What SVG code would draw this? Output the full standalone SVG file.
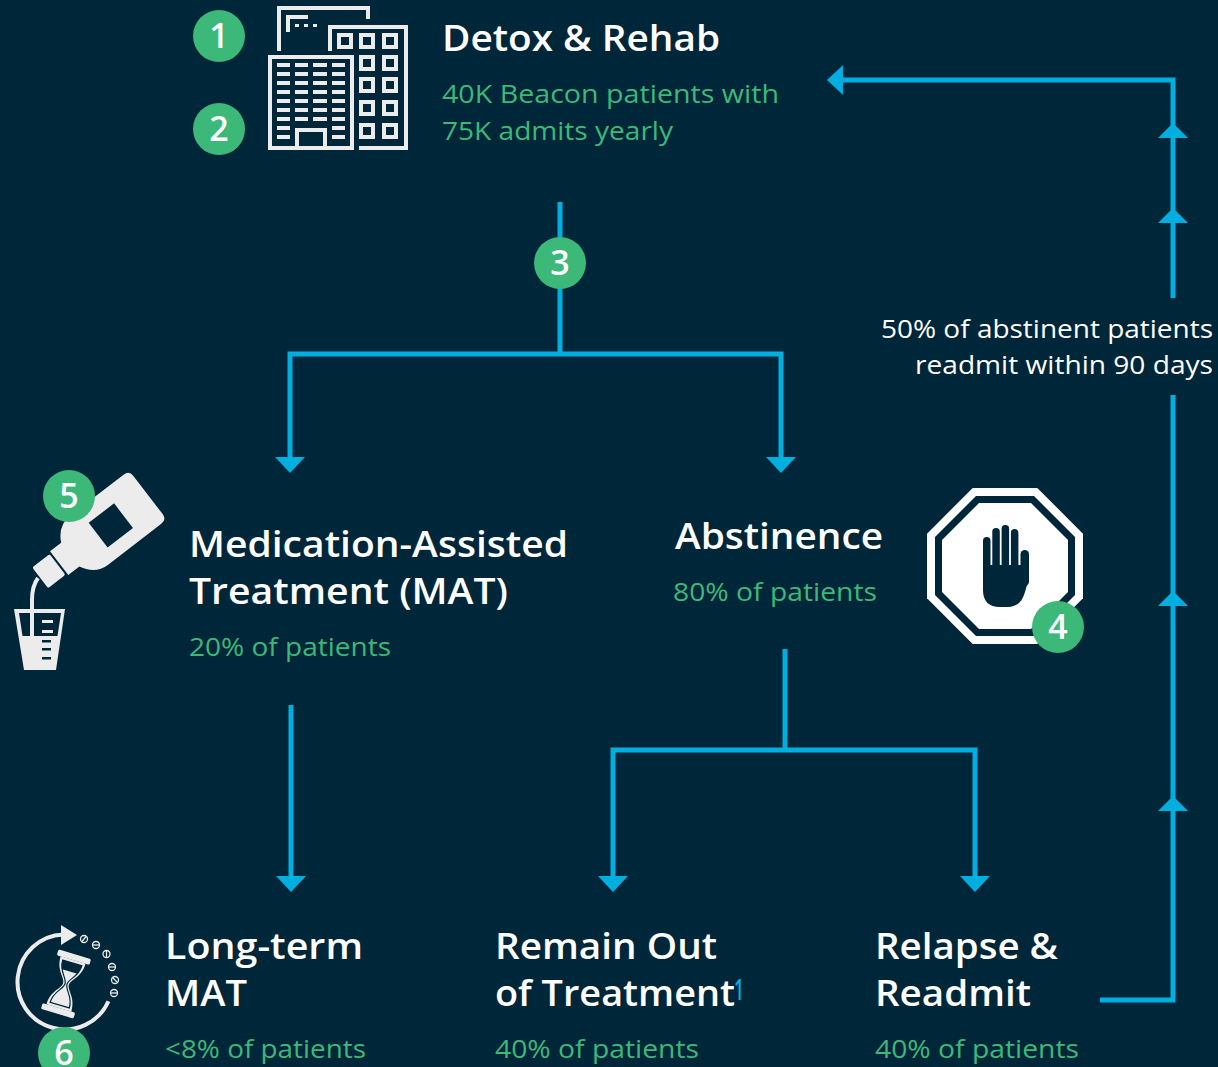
<svg xmlns="http://www.w3.org/2000/svg" xmlns:xlink="http://www.w3.org/1999/xlink" width="1218" height="1067" viewBox="0 0 1218 1067">
<style>
.bg{fill:#00263a}
.ln{fill:none;stroke:#00afe0;stroke-width:5;stroke-linejoin:miter;stroke-linecap:butt}
.hd{font-family:"Open Sans","Noto Sans","DejaVu Sans",sans-serif;font-weight:600;font-size:36px;fill:#ffffff}
.sub{font-family:"Open Sans","Noto Sans","DejaVu Sans",sans-serif;font-weight:400;font-size:26px;fill:#3cb878}
.note{font-family:"Open Sans","Noto Sans","DejaVu Sans",sans-serif;font-weight:400;font-size:26px;fill:#ffffff}
.badge{fill:#3cb878}
.num{font-family:"Open Sans","Noto Sans","DejaVu Sans",sans-serif;font-weight:600;font-size:34px;fill:#ffffff;text-anchor:middle}
.ico{fill:#ececec}
.icos{fill:none;stroke:#ececec;stroke-width:4}
.dark{fill:#00263a}
</style>
<defs>
<marker id="ah" markerUnits="userSpaceOnUse" markerWidth="16" markerHeight="30" viewBox="0 0 16 30" refX="0" refY="15" orient="auto">
<path d="M0,0 L16,15 L0,30 Z" fill="#00afe0"/>
</marker>
<path id="up" d="M-15,0 L0,-15 L15,0 Z" fill="#00afe0"/>
</defs>
<rect class="bg" x="0" y="0" width="1218" height="1067"/>

<g id="connectors">
<path class="ln" d="M560,202 V354"/>
<path class="ln" d="M560,354 H290 V457" marker-end="url(#ah)"/>
<path class="ln" d="M560,354 H781 V457" marker-end="url(#ah)"/>
<path class="ln" d="M291,705 V876" marker-end="url(#ah)"/>
<path class="ln" d="M785,649 V750"/>
<path class="ln" d="M785,750 H613 V876" marker-end="url(#ah)"/>
<path class="ln" d="M785,750 H975 V876" marker-end="url(#ah)"/>
<path class="ln" d="M1100,1000 H1173 V395"/>
<path class="ln" d="M1173,298 V80 H843" marker-end="url(#ah)"/>
<use xlink:href="#up" href="#up" x="1173" y="138"/>
<use xlink:href="#up" href="#up" x="1173" y="223"/>
<use xlink:href="#up" href="#up" x="1173" y="606"/>
<use xlink:href="#up" href="#up" x="1173" y="811"/>
<text class="note" x="881" y="338" textLength="332" lengthAdjust="spacingAndGlyphs">50% of abstinent patients</text>
<text class="note" x="915" y="374" textLength="298" lengthAdjust="spacingAndGlyphs">readmit within 90 days</text>
</g>

<g id="detox">
<g id="building">
<path class="icos" d="M279,51 V8 H368 V19"/>
<path class="icos" d="M288,32 V17 H308"/>
<rect class="ico" x="295" y="24" width="4" height="3"/>
<rect class="ico" x="304" y="24" width="4" height="3"/>
<rect class="ico" x="313" y="24" width="4" height="3"/>
<path class="icos" d="M330,51 V27 H406 V148 H359"/>
<rect class="icos" x="270" y="57" width="82" height="91"/>
<rect class="icos" x="297" y="130" width="28" height="18"/>
<g class="ico">
<rect x="277" y="63" width="13" height="4"/><rect x="295" y="63" width="13" height="4"/><rect x="313" y="63" width="14" height="4"/><rect x="332" y="63" width="13" height="4"/>
<rect x="277" y="72" width="13" height="4"/><rect x="295" y="72" width="13" height="4"/><rect x="313" y="72" width="14" height="4"/><rect x="332" y="72" width="13" height="4"/>
<rect x="277" y="81" width="13" height="4"/><rect x="295" y="81" width="13" height="4"/><rect x="313" y="81" width="14" height="4"/><rect x="332" y="81" width="13" height="4"/>
<rect x="277" y="90" width="13" height="4"/><rect x="295" y="90" width="13" height="4"/><rect x="313" y="90" width="14" height="4"/><rect x="332" y="90" width="13" height="4"/>
<rect x="277" y="99" width="13" height="4"/><rect x="295" y="99" width="13" height="4"/><rect x="313" y="99" width="14" height="4"/><rect x="332" y="99" width="13" height="4"/>
<rect x="277" y="108" width="13" height="4"/><rect x="295" y="108" width="13" height="4"/><rect x="313" y="108" width="14" height="4"/><rect x="332" y="108" width="13" height="4"/>
<rect x="277" y="117" width="13" height="4"/><rect x="295" y="117" width="13" height="4"/><rect x="313" y="117" width="14" height="4"/><rect x="332" y="117" width="13" height="4"/>
<rect x="277" y="126" width="13" height="4"/><rect x="332" y="126" width="13" height="4"/>
<rect x="277" y="135" width="13" height="4"/><rect x="332" y="135" width="13" height="4"/>
</g>
<g class="icos" stroke-width="3.5">
<rect x="339" y="35" width="12" height="12"/><rect x="361" y="35" width="12" height="12"/><rect x="384" y="35" width="12" height="12"/>
<rect x="361" y="57" width="12" height="12"/><rect x="384" y="57" width="12" height="12"/>
<rect x="361" y="79" width="12" height="12"/><rect x="384" y="79" width="12" height="12"/>
<rect x="361" y="102" width="12" height="12"/><rect x="384" y="102" width="12" height="12"/>
<rect x="361" y="125" width="12" height="12"/><rect x="384" y="125" width="12" height="12"/>
</g>
</g>
<circle class="badge" cx="219" cy="36" r="26"/>
<text class="num" x="219" y="48">1</text>
<circle class="badge" cx="219" cy="129" r="26"/>
<text class="num" x="219" y="141">2</text>
<text class="hd" x="442" y="51" textLength="278" lengthAdjust="spacingAndGlyphs">Detox &amp; Rehab</text>
<text class="sub" x="442" y="103" textLength="337" lengthAdjust="spacingAndGlyphs">40K Beacon patients with</text>
<text class="sub" x="442" y="140" textLength="231" lengthAdjust="spacingAndGlyphs">75K admits yearly</text>
</g>

<g id="step3">
<circle class="badge" cx="560" cy="263" r="26"/>
<text class="num" x="560" y="275">3</text>
</g>

<g id="mat">
<g id="bottle">
<g transform="translate(148,495) rotate(-37.5)">
<path class="ico" d="M-7,-31 H-74 Q-90,-31 -98,-15 H-112 V15 H-98 Q-90,31 -74,31 H-7 Q0,31 0,24 V-24 Q0,-31 -7,-31 Z"/>
<rect class="ico" x="-136" y="-13" width="22" height="26" rx="2"/>
<rect class="dark" x="-64" y="-14" width="32" height="31"/>
</g>
<path class="icos" d="M38,578 Q32,586 32,600 V637"/>
<path class="ico" d="M14,609 H65 L56,670 H24 Z"/>
<path class="dark" d="M19,613 H61 L57.5,636 H22.5 Z"/>
<rect class="ico" x="30" y="612" width="4" height="25"/>
<rect class="ico" x="42" y="620" width="11" height="3"/>
<rect class="ico" x="42" y="630" width="11" height="3"/>
<rect class="dark" x="42" y="640" width="9" height="2.5"/>
<rect class="dark" x="42" y="648" width="9" height="2.5"/>
<rect class="dark" x="42" y="657" width="9" height="2.5"/>
</g>
<circle class="badge" cx="69" cy="496" r="26"/>
<text class="num" x="69" y="508">5</text>
<text class="hd" x="189" y="557" textLength="379" lengthAdjust="spacingAndGlyphs">Medication-Assisted</text>
<text class="hd" x="189" y="604" textLength="319" lengthAdjust="spacingAndGlyphs">Treatment (MAT)</text>
<text class="sub" x="189" y="656" textLength="202" lengthAdjust="spacingAndGlyphs">20% of patients</text>
</g>

<g id="abstinence">
<g id="stopsign">
<polygon fill="#ffffff" points="972.7,488 1037.3,488 1083,533.7 1083,598.3 1037.3,644 972.7,644 927,598.3 927,533.7"/>
<polygon class="dark" points="976,496 1034,496 1075,537 1075,595 1034,636 976,636 935,595 935,537"/>
<polygon fill="#ffffff" points="979,503 1031,503 1068,540 1068,592 1031,629 979,629 942,592 942,540"/>
<g class="dark">
<rect x="983" y="537" width="7.5" height="40" rx="3.7"/>
<rect x="992.3" y="528" width="7.5" height="45" rx="3.7"/>
<rect x="1001.6" y="525" width="7.5" height="45" rx="3.7"/>
<rect x="1010.9" y="529" width="7.5" height="45" rx="3.7"/>
<rect x="1020.5" y="550" width="8.5" height="36" rx="4.2"/>
<path d="M983,565 V590 Q983,607 1000,607 H1008 Q1021,607 1025,592 L1029,578 V565 Z"/>
</g>
</g>
<circle class="badge" cx="1058" cy="627" r="26"/>
<text class="num" x="1058" y="639">4</text>
<text class="hd" x="675" y="549" textLength="208" lengthAdjust="spacingAndGlyphs">Abstinence</text>
<text class="sub" x="673" y="601" textLength="204" lengthAdjust="spacingAndGlyphs">80% of patients</text>
</g>

<g id="longterm">
<g id="hourglass">
<path class="icos" stroke-width="5" d="M108.4,1001.3 A47.5,47.5 0 1 1 63.3,934.5"/>
<path class="ico" d="M61,925 L77,935 L61,945 Z"/>
<g transform="translate(66,984) rotate(16.5)">
<rect class="ico" x="-17" y="-31" width="34" height="6" rx="1.5"/>
<rect class="ico" x="-17" y="25" width="34" height="6" rx="1.5"/>
<path class="ico" d="M-13,-25 H13 C13,-10 3,-6 3,0 C3,6 13,10 13,25 H-13 C-13,10 -3,6 -3,0 C-3,-6 -13,-10 -13,-25 Z"/>
<path fill="none" stroke="#00263a" stroke-width="1.2" d="M-10,-22 H10 C10,-10 1,-6 1,0 C1,6 10,10 10,22 H-10 C-10,10 -1,6 -1,0 C-1,-6 -10,-10 -10,-22 Z"/>
<path class="dark" d="M-10,-22 H10 C10,-17 9,-15 8,-13 H-8 C-9,-15 -10,-17 -10,-22 Z"/>
</g>
<g fill="none" stroke="#ececec" stroke-width="1.3">
<circle cx="84" cy="939" r="3.5"/><path d="M82,941.5 L86,936.5"/>
<circle cx="96" cy="945" r="3.5"/><path d="M92.5,945 H99.5"/>
<circle cx="106.5" cy="954" r="3.5"/><path d="M106.5,950.5 V957.5"/>
<circle cx="112" cy="967" r="3.5"/><path d="M108.5,967 H115.5"/>
<circle cx="115" cy="980" r="3.5"/><path d="M112.5,977.5 L117.5,982.5"/>
<circle cx="114" cy="993" r="3.5"/><path d="M110.5,993 H117.5"/>
</g>
</g>
<circle class="badge" cx="64" cy="1053" r="26"/>
<text class="num" x="64" y="1065">6</text>
<text class="hd" x="165" y="959" textLength="198" lengthAdjust="spacingAndGlyphs">Long-term</text>
<text class="hd" x="165" y="1006" textLength="82" lengthAdjust="spacingAndGlyphs">MAT</text>
<text class="sub" x="165" y="1058" textLength="201" lengthAdjust="spacingAndGlyphs">&lt;8% of patients</text>
</g>

<g id="remain">
<text class="hd" x="495" y="959" textLength="222" lengthAdjust="spacingAndGlyphs">Remain Out</text>
<text class="hd" x="495" y="1006" textLength="240" lengthAdjust="spacingAndGlyphs">of Treatment</text>
<text x="734" y="1000" font-family="Open Sans, Noto Sans, sans-serif" font-weight="600" font-size="29" fill="#00afe0" textLength="10" lengthAdjust="spacingAndGlyphs">1</text>
<text class="sub" x="495" y="1058" textLength="204" lengthAdjust="spacingAndGlyphs">40% of patients</text>
</g>

<g id="relapse">
<text class="hd" x="875" y="959" textLength="183" lengthAdjust="spacingAndGlyphs">Relapse &amp;</text>
<text class="hd" x="875" y="1006" textLength="156" lengthAdjust="spacingAndGlyphs">Readmit</text>
<text class="sub" x="875" y="1058" textLength="204" lengthAdjust="spacingAndGlyphs">40% of patients</text>
</g>
</svg>
